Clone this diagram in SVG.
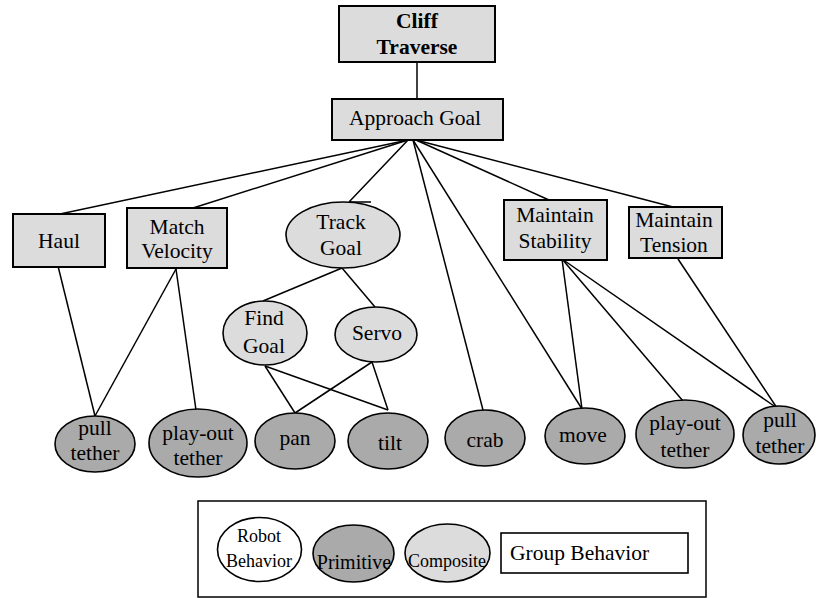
<svg xmlns="http://www.w3.org/2000/svg" width="816" height="598" viewBox="0 0 816 598" font-family="'Liberation Serif', 'Times New Roman', 'DejaVu Serif', serif">
<style>
text{font-family:"Liberation Serif","Times New Roman","DejaVu Serif",serif;font-size:21.5px;fill:#000;text-anchor:middle}
.grp{fill:#dcdcdc;stroke:#000;stroke-width:2}
.comp{fill:#dcdcdc;stroke:#000;stroke-width:1.6}
.prim{fill:#aaaaaa;stroke:#000;stroke-width:1.6}
.robot{fill:#fff;stroke:#000;stroke-width:1.6}
.conn path{fill:none;stroke:#000;stroke-width:1.5}
.leg{font-size:18px}
</style>
<rect width="816" height="598" fill="#fff"/>
<g class="conn" id="connectors">
<path d="M417,62 L417,99"/>
<path d="M408,140 L60,214"/>
<path d="M408,140 L193,208"/>
<path d="M408,140 L349,202 M349,202 L371,202"/>
<path d="M413,140 L483,410"/>
<path d="M413,140 L582,409"/>
<path d="M416,140 L549,200"/>
<path d="M416,140 L673,207"/>
<path d="M58,266 L95,416"/>
<path d="M176,269 L95,416"/>
<path d="M176,269 L196,410"/>
<path d="M342,268 L263,301"/>
<path d="M342,268 L375,307"/>
<path d="M265,366 L295,413"/>
<path d="M265,366 L388,410"/>
<path d="M372,362 L295,413"/>
<path d="M372,362 L388,410"/>
<path d="M562,259 L582,409"/>
<path d="M562,259 L683,401"/>
<path d="M562,259 L777,408"/>
<path d="M678,259 L777,408"/>
</g>
<g id="cliff-traverse">
<rect class="grp" x="339" y="6" width="156" height="56"/>
<text x="417" y="28" font-weight="bold">Cliff</text>
<text x="417" y="54" font-weight="bold">Traverse</text>
</g>
<g id="approach-goal">
<rect class="grp" x="332" y="99" width="171" height="41"/>
<text x="415" y="125">Approach Goal</text>
</g>
<g id="haul">
<rect class="grp" x="13" y="214" width="92" height="53"/>
<text x="59" y="248">Haul</text>
</g>
<g id="match-velocity">
<rect class="grp" x="127" y="208" width="100" height="60"/>
<text x="177" y="234">Match</text>
<text x="177" y="258">Velocity</text>
</g>
<g id="track-goal">
<ellipse class="comp" cx="343" cy="235" rx="57" ry="33"/>
<text x="341" y="229">Track</text>
<text x="341" y="255">Goal</text>
</g>
<g id="maintain-stability">
<rect class="grp" x="504" y="200" width="103" height="60"/>
<text x="555" y="222">Maintain</text>
<text x="555" y="248">Stability</text>
</g>
<g id="maintain-tension">
<rect class="grp" x="629" y="207" width="93" height="51"/>
<text x="674" y="227">Maintain</text>
<text x="674" y="252">Tension</text>
</g>
<g id="find-goal">
<ellipse class="comp" cx="265" cy="333" rx="42" ry="32"/>
<text x="264" y="325">Find</text>
<text x="264" y="353">Goal</text>
</g>
<g id="servo">
<ellipse class="comp" cx="376" cy="334.5" rx="41" ry="27.5"/>
<text x="377" y="340">Servo</text>
</g>
<g id="pull-tether-1">
<ellipse class="prim" cx="95" cy="444" rx="40" ry="28"/>
<text x="95" y="435">pull</text>
<text x="95" y="460">tether</text>
</g>
<g id="play-out-tether-1">
<ellipse class="prim" cx="198" cy="443" rx="49" ry="34"/>
<text x="198" y="440">play-out</text>
<text x="198" y="465">tether</text>
</g>
<g id="pan">
<ellipse class="prim" cx="295" cy="441" rx="40" ry="28"/>
<text x="295" y="445">pan</text>
</g>
<g id="tilt">
<ellipse class="prim" cx="388" cy="441" rx="40" ry="28"/>
<text x="390" y="450">tilt</text>
</g>
<g id="crab">
<ellipse class="prim" cx="485" cy="438" rx="40" ry="28"/>
<text x="485" y="447">crab</text>
</g>
<g id="move">
<ellipse class="prim" cx="585" cy="436" rx="40" ry="28"/>
<text x="583" y="442">move</text>
</g>
<g id="play-out-tether-2">
<ellipse class="prim" cx="685" cy="434" rx="49" ry="34"/>
<text x="685" y="430">play-out</text>
<text x="685" y="457">tether</text>
</g>
<g id="pull-tether-2">
<ellipse class="prim" cx="779" cy="435" rx="36" ry="29"/>
<text x="780" y="427">pull</text>
<text x="780" y="453">tether</text>
</g>
<g id="legend">
<rect x="198" y="501" width="508" height="96" fill="none" stroke="#000" stroke-width="1.5"/>
<ellipse class="robot" cx="259.5" cy="549.5" rx="42" ry="32"/>
<text class="leg" x="259" y="542">Robot</text>
<text class="leg" x="259" y="567">Behavior</text>
<ellipse class="prim" cx="353.5" cy="553.5" rx="40.5" ry="28.5"/>
<text class="leg" x="354" y="569" style="font-size:20px">Primitive</text>
<ellipse class="comp" cx="447.5" cy="553" rx="42.5" ry="29"/>
<text class="leg" x="447" y="567">Composite</text>
<rect x="501" y="533" width="187" height="40" fill="#fff" stroke="#000" stroke-width="1.6"/>
<text x="510" y="560" style="text-anchor:start">Group Behavior</text>
</g>
</svg>
